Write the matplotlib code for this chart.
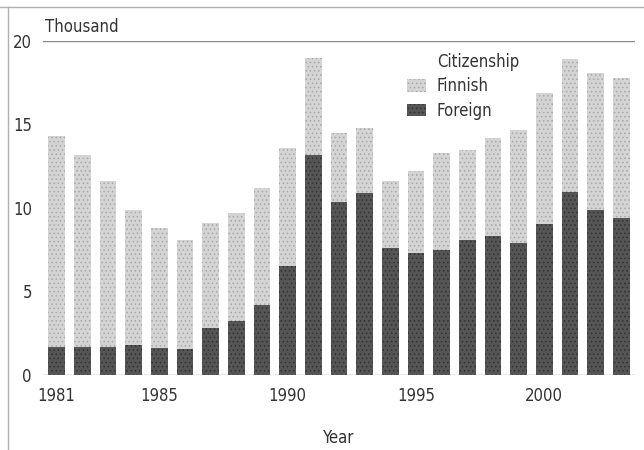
import matplotlib.pyplot as plt
from matplotlib import font_manager
from matplotlib.lines import Line2D
from matplotlib.patches import Patch

names = {f.name for f in font_manager.fontManager.ttflist}
family = "Liberation Sans Narrow" if "Liberation Sans Narrow" in names else "DejaVu Sans"
plt.rcParams['font.family'] = [family, 'DejaVu Sans']
plt.rcParams['font.stretch'] = 'condensed'
plt.rcParams['hatch.linewidth'] = 0.6

years = list(range(1981, 2004))
total = [14.3, 13.2, 11.6, 9.9, 8.8, 8.1, 9.1, 9.7, 11.2, 13.6, 19.0, 14.5,
         14.8, 11.6, 12.2, 13.3, 13.5, 14.2, 14.7, 16.9, 18.9, 18.1, 17.8]
foreign = [1.65, 1.7, 1.67, 1.78, 1.6, 1.56, 2.8, 3.25, 4.2, 6.5, 13.2, 10.35,
           10.9, 7.6, 7.3, 7.5, 8.1, 8.3, 7.9, 9.05, 10.95, 9.9, 9.4]
finnish = [t - f for t, f in zip(total, foreign)]
xticks = [1981, 1985, 1990, 1995, 2000]
yticks = [0, 5, 10, 15, 20]

text_col = "#333333"
light, light_dot = "#d4d4d4", "#a8a8a8"
dark, dark_dot = "#555555", "#333333"

fig = plt.figure(figsize=(6.44, 4.5), dpi=100)
ax = fig.add_axes([0.0668, 0.1667, 0.9192, 0.7422])

ax.bar(years, foreign, width=0.65, color=dark, edgecolor=dark_dot,
       hatch="....", linewidth=0)
ax.bar(years, finnish, bottom=foreign, width=0.65, color=light,
       edgecolor=light_dot, hatch="....", linewidth=0)

ax.set_xlim(1980.47, 2003.53)
ax.set_ylim(0, 20)
for s in ax.spines.values():
    s.set_visible(False)
ax.axhline(0, color="#8a8a8a", lw=1.0, zorder=3)
ax.axhline(20, color="#8a8a8a", lw=1.0, zorder=3)

ax.set_xticks(xticks)
ax.set_yticks(yticks)
ax.tick_params(length=0, labelsize=12, labelcolor=text_col)
ax.tick_params(axis="x", pad=9)
ax.tick_params(axis="y", pad=8)

ax.set_xlabel("Year", fontsize=12, color=text_col, labelpad=17)
ax.text(0.003, 1.015, "Thousand", transform=ax.transAxes, fontsize=12,
        color=text_col, va="bottom", ha="left")

handles = [Patch(facecolor=light, edgecolor=light_dot, hatch="....", linewidth=0),
           Patch(facecolor=dark, edgecolor=dark_dot, hatch="....", linewidth=0)]
leg = ax.legend(handles, ["Finnish", "Foreign"], loc="upper left",
                bbox_to_anchor=(0.604, 0.912), frameon=False, fontsize=12,
                handlelength=1.1, handleheight=0.8, handletextpad=0.65,
                labelspacing=0.4, borderaxespad=0)
for t in leg.get_texts():
    t.set_color(text_col)
ax.text(0.665, 0.91, "Citizenship", transform=ax.transAxes, fontsize=12,
        color=text_col, va="bottom", ha="left")

# thin frame on the left and top of the page
fig.add_artist(Line2D([8 / 644, 8 / 644], [0, 1 - 7 / 450], color="#b0b0b0", lw=1.0))
fig.add_artist(Line2D([0, 1], [1 - 7 / 450, 1 - 7 / 450], color="#b0b0b0", lw=1.0))

fig.savefig("out.png", dpi=100)
